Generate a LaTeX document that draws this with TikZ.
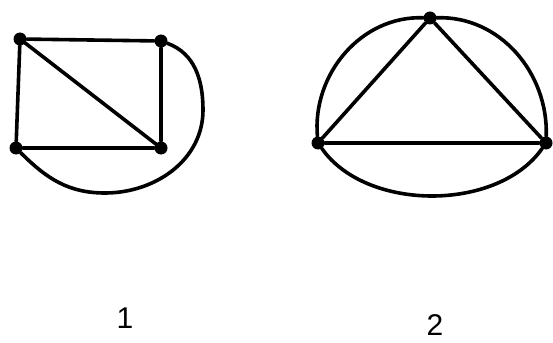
\documentclass[tikz,border=0pt]{standalone}
\usepackage{fontspec}
\setsansfont{Liberation Sans}
\usetikzlibrary{positioning}
\tikzset{
  vtx/.style={circle,fill=black,inner sep=0pt,minimum size=13pt},
  edge/.style={line width=3.6pt,draw=black,line cap=round},
  numlbl/.style={font=\sffamily\fontsize{30}{36}\selectfont,inner sep=0pt},
}
\begin{document}
\begin{tikzpicture}[x=1pt,y=-1pt]
  \useasboundingbox (0,0) rectangle (553,342);

  % ===== graph 1: square with diagonal + outer curve =====
  \node[vtx] (a1) at (20,39) {};
  \node[vtx] (b1) at (161,41) {};
  \node[vtx] (c1) at (16,148) {};
  \node[vtx] (d1) at (161,148) {};
  \draw[edge] (a1) -- (b1) -- (d1) -- (c1) -- (a1);
  \draw[edge] (a1) -- (d1);
  \draw[edge] (c1) to[out=-45,in=180] (105,193)
    to[out=0,in=-90] (203,110) to[out=90,in=-20] (b1);

  % ===== graph 2: triangle with three outer arcs =====
  \node[vtx] (t2) at (430,18) {};
  \node[vtx] (l2) at (318,143) {};
  \node[vtx] (r2) at (546,143) {};
  \draw[edge] (t2) -- (l2) -- (r2) -- (t2);
  \draw[edge] (l2) to[out=95,in=178] (t2);
  \draw[edge] (t2) to[out=2,in=88] (r2);
  \draw[edge] (l2) to[out=-55,in=-125,looseness=0.9] (r2);

  % ===== labels =====
  \node[numlbl] (n1) at (125,318) {1};
  \node[numlbl] (n2) at (435,325) {2};
\end{tikzpicture}
\end{document}
